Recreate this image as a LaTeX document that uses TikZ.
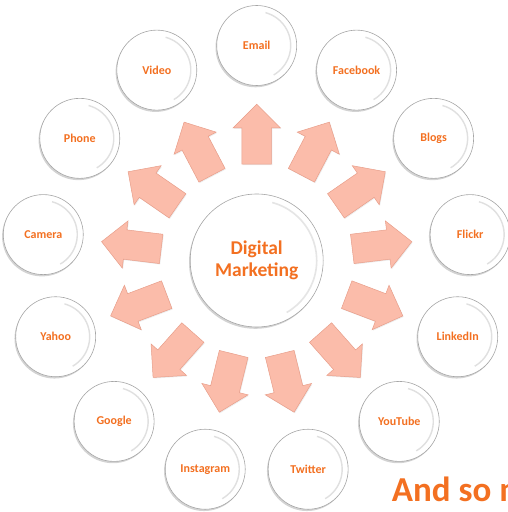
\documentclass[tikz,border=0pt]{standalone}
\usepackage{fontspec}
\setmainfont{Carlito}
\usetikzlibrary{calc, shapes.arrows, shadows}

\definecolor{markorange}{RGB}{243,112,33}
\definecolor{arrowfill}{RGB}{251,188,170}
\definecolor{arrowline}{RGB}{232,158,138}

\begin{document}
\begin{tikzpicture}[x = 1pt, y = 1pt,
	channel/.style = {circle, minimum size = 80pt, inner sep = 0pt, fill = white, draw = black!35, line width = 0.6pt,
		drop shadow = {shadow xshift = -1.2pt, shadow yshift = -1.8pt, opacity = 0.35},
		path picture = {\draw [black!12, line width = 1.4pt] ($ (path picture bounding box.center) + (75:34pt) $) arc [start angle = 75, end angle = -60, radius = 34pt];},
		text = markorange, font = \fontsize{12}{14}\selectfont\bfseries},
	hub/.style = {channel, minimum size = 133pt, align = center,
		path picture = {\draw [black!10, line width = 1.6pt] ($ (path picture bounding box.center) + (75:60pt) $) arc [start angle = 75, end angle = -60, radius = 60pt];},
		font = \fontsize{19.5}{21.5}\selectfont\bfseries},
	spoke/.style = {single arrow, minimum height = 60pt, single arrow head extend = 9pt, inner xsep = 0pt, inner ysep = 14.5pt,
		fill = arrowfill, draw = arrowline, line width = 0.5pt,
		drop shadow = {shadow xshift = 0.8pt, shadow yshift = -1pt, opacity = 0.15}}]
		\def\ring{215};
		\def\reach{0.553};
		
		\useasboundingbox (0,0) rectangle (508,512);
		\clip (0,0) rectangle (508,512);
		
		\coordinate (centre) at (256.7,251.5);
		
		\node [hub] (digital marketing) at (centre) {Digital\\Marketing};
		
		%channels
		\node [channel] (email) at ($ (centre) + (90:\ring) $) {Email};
		\node [channel] (facebook) at ($ (centre) + (62.31:\ring) $) {Facebook};
		\node [channel] (blogs) at ($ (centre) + (34.62:\ring) $) {Blogs};
		\node [channel] (flickr) at ($ (centre) + (6.92:\ring) $) {Flickr};
		\node [channel] (linkedin) at ($ (centre) + (-20.77:\ring) $) {LinkedIn};
		\node [channel] (youtube) at ($ (centre) + (-48.46:\ring) $) {YouTube};
		\node [channel] (twitter) at ($ (centre) + (-76.15:\ring) $) {Twitter};
		\node [channel] (instagram) at ($ (centre) + (-103.85:\ring) $) {Instagram};
		\node [channel] (google) at ($ (centre) + (-131.54:\ring) $) {Google};
		\node [channel] (yahoo) at ($ (centre) + (-159.23:\ring) $) {Yahoo};
		\node [channel] (camera) at ($ (centre) + (173.08:\ring) $) {Camera};
		\node [channel] (phone) at ($ (centre) + (145.38:\ring) $) {Phone};
		\node [channel] (video) at ($ (centre) + (117.69:\ring) $) {Video};
		
		%arrows
		\node [spoke, rotate = 90] (to email) at ($ (digital marketing)!\reach!(email) $) {};
		\node [spoke, rotate = 62.31] (to facebook) at ($ (digital marketing)!\reach!(facebook) $) {};
		\node [spoke, rotate = 34.62] (to blogs) at ($ (digital marketing)!\reach!(blogs) $) {};
		\node [spoke, rotate = 6.92] (to flickr) at ($ (digital marketing)!\reach!(flickr) $) {};
		\node [spoke, rotate = -20.77] (to linkedin) at ($ (digital marketing)!\reach!(linkedin) $) {};
		\node [spoke, rotate = -48.46] (to youtube) at ($ (digital marketing)!\reach!(youtube) $) {};
		\node [spoke, rotate = -76.15] (to twitter) at ($ (digital marketing)!\reach!(twitter) $) {};
		\node [spoke, rotate = -103.85] (to instagram) at ($ (digital marketing)!\reach!(instagram) $) {};
		\node [spoke, rotate = -131.54] (to google) at ($ (digital marketing)!\reach!(google) $) {};
		\node [spoke, rotate = -159.23] (to yahoo) at ($ (digital marketing)!\reach!(yahoo) $) {};
		\node [spoke, rotate = 173.08] (to camera) at ($ (digital marketing)!\reach!(camera) $) {};
		\node [spoke, rotate = 145.38] (to phone) at ($ (digital marketing)!\reach!(phone) $) {};
		\node [spoke, rotate = 117.69] (to video) at ($ (digital marketing)!\reach!(video) $) {};
		
		\node [anchor = base west, inner sep = 0pt, text = markorange, font = \fontsize{35}{40}\selectfont\bfseries] (and so) at (391.7,10.3) {And so m};
	\end{tikzpicture}
\end{document}
